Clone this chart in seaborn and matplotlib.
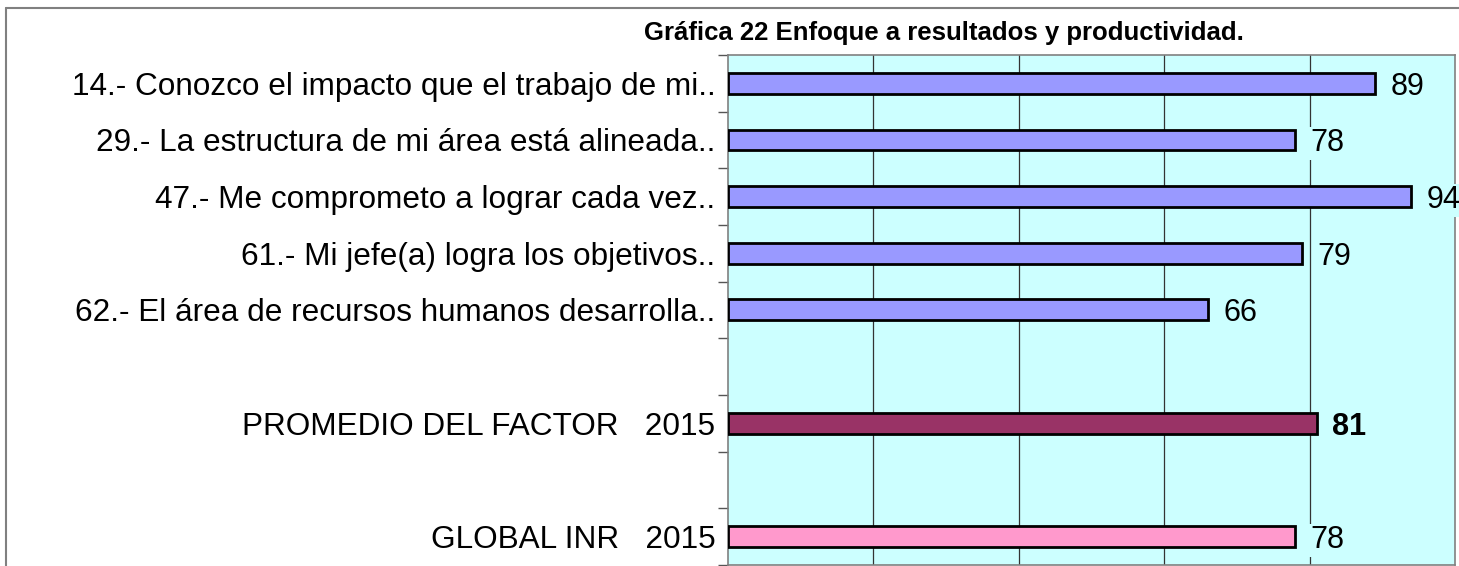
import seaborn as sns
import matplotlib.pyplot as plt
import numpy as np
import pandas as pd
from matplotlib.lines import Line2D

# datos de la grafica
etiquetas = [
    "14.- Conozco el impacto que el trabajo de mi..",
    "29.- La estructura de mi área está alineada..",
    "47.- Me comprometo a lograr cada vez..",
    "61.- Mi jefe(a) logra los objetivos..",
    "62.- El área de recursos humanos desarrolla..",
    " ",
    "PROMEDIO DEL FACTOR   2015",
    "  ",
    "GLOBAL INR   2015",
]
valores = [89, 78, 94, 79, 66, np.nan, 81, np.nan, 78]
colores = ["#9999FF"] * 5 + ["#9999FF", "#993366", "#9999FF", "#FF99CC"]
titulo = "Gráfica 22 Enfoque a resultados y productividad."

sns.set_style("white")
plt.rcParams["font.family"] = ["Liberation Sans", "DejaVu Sans"]
plt.rcParams["text.color"] = "black"

df = pd.DataFrame({"item": etiquetas, "valor": valores})

fig = plt.figure(figsize=(14.59, 5.66), dpi=100)
ax = fig.add_axes([0.499, 0.002, 0.4983, 0.9008])
ax.set_facecolor("#CCFFFF")

sns.barplot(data=df, x="valor", y="item", hue="item", order=etiquetas,
            palette=dict(zip(etiquetas, colores)), legend=False, saturation=1,
            width=0.37, edgecolor="black", linewidth=2, ax=ax, zorder=3)

ax.set_xlim(0, 100)
ax.set_ylim(len(etiquetas) - 0.5, -0.5)
ax.set_xticks([20, 40, 60, 80])
ax.set_xticklabels([])
ax.tick_params(axis="x", length=0)
ax.grid(axis="x", color="#333333", linewidth=0.9, zorder=1)
ax.set_axisbelow(True)

ax.set_yticks(range(len(etiquetas)))
ax.set_yticklabels(etiquetas, fontsize=22.7, color="black")
ax.tick_params(axis="y", which="major", length=0, pad=9)
ax.set_yticks(np.arange(-0.5, len(etiquetas), 1), minor=True)
ax.tick_params(axis="y", which="minor", length=7, width=1, color="#555555", left=True)
ax.set_xlabel("")
ax.set_ylabel("")

for s in ax.spines.values():
    s.set_color("#808080")
    s.set_linewidth(1.2)

# etiquetas de valor
for i, v in enumerate(valores):
    if np.isnan(v):
        continue
    peso = "bold" if etiquetas[i].startswith("PROMEDIO") else "normal"
    ax.annotate(f"{v:.0f}", (v, i), xytext=(11, 0), textcoords="offset points",
                va="center_baseline", ha="left", fontsize=22, fontweight=peso,
                color="black",
                bbox=dict(facecolor="#CCFFFF", edgecolor="none", pad=1), zorder=4,
                annotation_clip=False)

fig.text(944 / 1459, 1 - 40 / 566, titulo, ha="center", va="baseline",
         fontsize=18.5, fontweight="bold", color="black")

# marco exterior
fig.add_artist(Line2D([6 / 1459, 6 / 1459], [0, 1 - 8 / 566], color="#808080", lw=1.5))
fig.add_artist(Line2D([6 / 1459, 1], [1 - 8 / 566, 1 - 8 / 566], color="#808080", lw=1.5))

fig.savefig("out.png", dpi=100)
